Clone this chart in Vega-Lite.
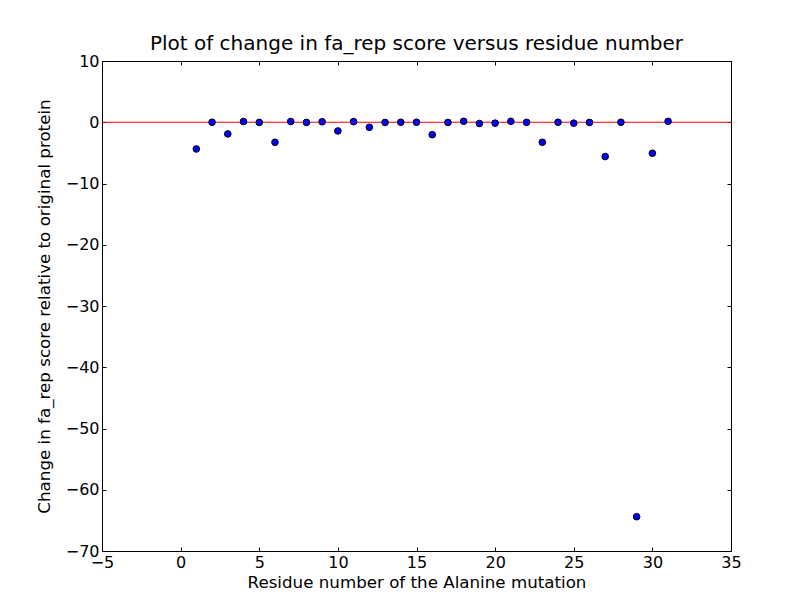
{
  "$schema": "https://vega.github.io/schema/vega-lite/v6.json",
  "autosize": {"type": "none"},
  "width": 629,
  "height": 490,
  "padding": {"left": 102, "top": 61, "right": 81, "bottom": 61},
  "background": "white",
  "title": {"text": "Plot of change in fa_rep score versus residue number", "font": "DejaVu Sans", "fontSize": 20, "fontWeight": "normal", "color": "black", "offset": -1},
  "config": {
    "view": {"stroke": "black", "strokeWidth": 1},
    "axis": {"grid": false, "domain": false, "labelFont": "DejaVu Sans", "labelFontSize": 16, "labelColor": "black", "titleFont": "DejaVu Sans", "titleFontSize": 16.7, "titleFontWeight": "normal", "titleColor": "black", "tickColor": "black", "tickSize": -4, "labelPadding": 6, "labelFlush": false, "labelOverlap": false}
  },
  "data": {"values": [
    {"residue": 1, "change": -4.36},
    {"residue": 2, "change": 0.0},
    {"residue": 3, "change": -1.91},
    {"residue": 4, "change": 0.12},
    {"residue": 5, "change": -0.03},
    {"residue": 6, "change": -3.27},
    {"residue": 7, "change": 0.12},
    {"residue": 8, "change": -0.03},
    {"residue": 9, "change": 0.08},
    {"residue": 10, "change": -1.42},
    {"residue": 11, "change": 0.1},
    {"residue": 12, "change": -0.82},
    {"residue": 13, "change": -0.03},
    {"residue": 14, "change": 0.0},
    {"residue": 15, "change": 0.0},
    {"residue": 16, "change": -2.03},
    {"residue": 17, "change": -0.03},
    {"residue": 18, "change": 0.16},
    {"residue": 19, "change": -0.2},
    {"residue": 20, "change": -0.15},
    {"residue": 21, "change": 0.15},
    {"residue": 22, "change": -0.02},
    {"residue": 23, "change": -3.27},
    {"residue": 24, "change": 0.0},
    {"residue": 25, "change": -0.15},
    {"residue": 26, "change": -0.03},
    {"residue": 27, "change": -5.6},
    {"residue": 28, "change": 0.0},
    {"residue": 29, "change": -64.4},
    {"residue": 30, "change": -5.06},
    {"residue": 31, "change": 0.15}
  ]},
  "layer": [
    {
      "data": {"values": [{"zero": 0}]},
      "mark": {"type": "rule", "color": "red", "strokeWidth": 1},
      "encoding": {
        "y": {"field": "zero", "type": "quantitative", "scale": {"domain": [-70, 10], "nice": false},
              "axis": {"orient": "right", "labels": false, "title": null, "values": [-70, -60, -50, -40, -30, -20, -10, 0, 10]}}
      }
    },
    {
      "data": {"values": [{"x": -5}]},
      "mark": {"type": "point", "opacity": 0},
      "encoding": {
        "x": {"field": "x", "type": "quantitative", "scale": {"domain": [-5, 35], "nice": false},
              "axis": {"orient": "top", "labels": false, "title": null, "values": [-5, 0, 5, 10, 15, 20, 25, 30, 35]}}
      }
    },
    {
      "mark": {"type": "circle", "size": 44, "fill": "blue", "stroke": "black", "strokeWidth": 1, "opacity": 1},
      "encoding": {
        "x": {"field": "residue", "type": "quantitative", "scale": {"domain": [-5, 35], "nice": false},
              "axis": {"orient": "bottom", "title": "Residue number of the Alanine mutation", "values": [-5, 0, 5, 10, 15, 20, 25, 30, 35], "labelPadding": 7, "titlePadding": 4}},
        "y": {"field": "change", "type": "quantitative", "scale": {"domain": [-70, 10], "nice": false},
              "axis": {"orient": "left", "title": "Change in fa_rep score relative to original protein", "values": [-70, -60, -50, -40, -30, -20, -10, 0, 10], "labelPadding": 7, "titlePadding": 12}}
      }
    }
  ],
  "resolve": {"axis": {"x": "independent", "y": "independent"}}
}
